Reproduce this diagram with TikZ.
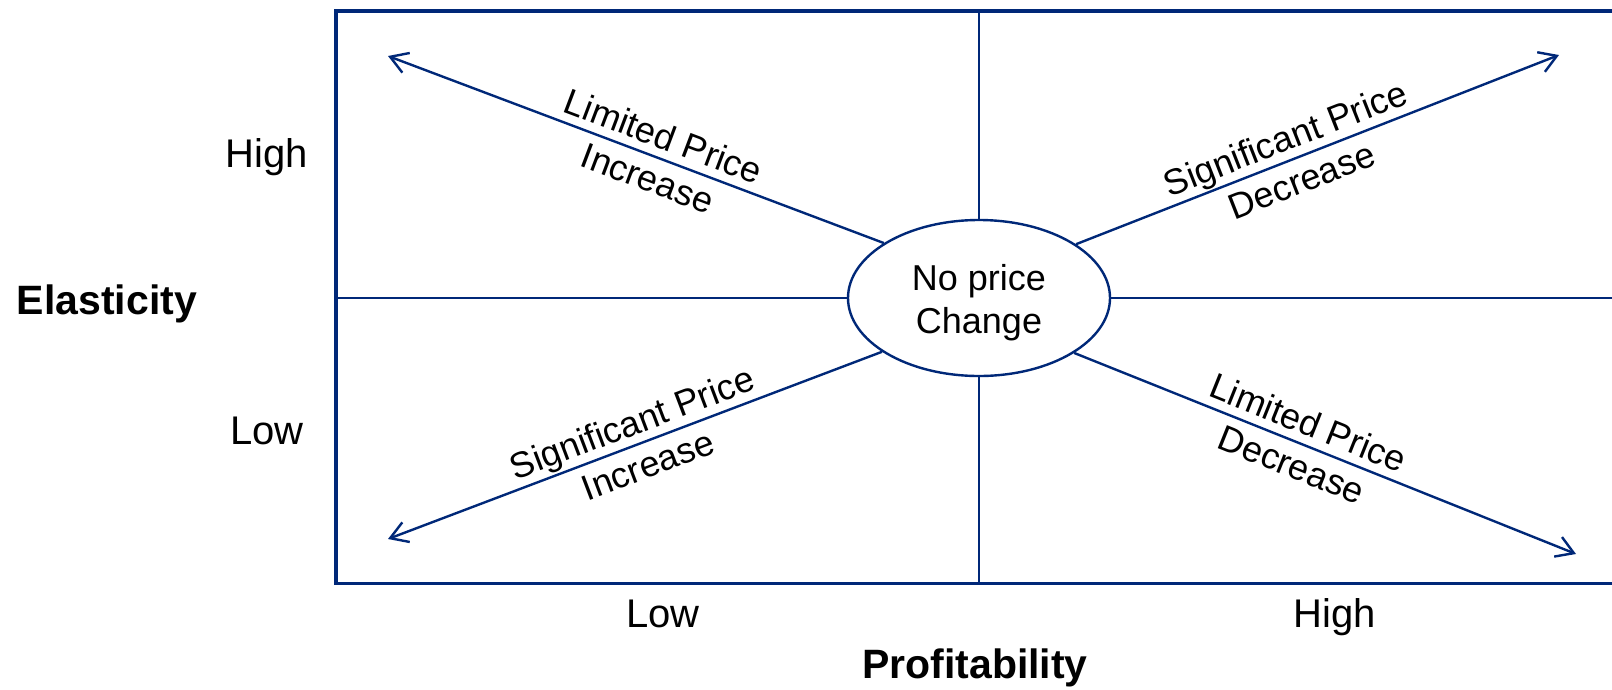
\documentclass[tikz,border=0pt]{standalone}
\usepackage{fontspec}
\setmainfont{Liberation Sans}
\usetikzlibrary{shapes.geometric,arrows.meta}

\definecolor{navy}{RGB}{0,40,120}

\tikzset{
	frame/.style={draw=navy, line width=3.5pt},
	quad/.style={draw=navy, line width=2.5pt},
	move/.style={draw=navy, line width=2.4pt,
		-{Straight Barb[length=17pt,width=21pt,line width=2.4pt]}},
	axis/.style={font=\fontsize{40}{46}\selectfont, anchor=base},
	title/.style={font=\fontsize{41}{47}\selectfont\bfseries, anchor=base},
	hint/.style={font=\fontsize{36}{45}\selectfont, align=center, sloped},
	hub/.style={ellipse, draw=navy, line width=2.4pt, fill=white,
		minimum width=262pt, minimum height=156pt, inner sep=0pt},
	hubtext/.style={font=\fontsize{36}{43}\selectfont, align=center}
}

\begin{document}
\begin{tikzpicture}[x=1pt,y=-1pt]
	\useasboundingbox (0,0) rectangle (1612,689);

	%\draw[help lines,step=100] (0,0) grid (1612,689);

	% the frame, runs off on the right
	\draw[frame] (1612,11) -- (336,11) -- (336,583.5) -- (1612,583.5);

	\node[hub] (np) at (979,298) {};
	\node[hubtext] (np-t) at (979,303) {No price\\Change};

	% cross through the middle
	\coordinate (top) at (979,11);
	\coordinate (bot) at (979,583.5);
	\coordinate (lft) at (336,298);
	\coordinate (rgt) at (1612,298);
	\draw[quad] (top) -- (np.north);
	\draw[quad] (np.south) -- (bot);
	\draw[quad] (lft) -- (np.west);
	\draw[quad] (np.east) -- (rgt);

	% arrow tips
	\coordinate (ul) at (388,56);
	\coordinate (ur) at (1559,55);
	\coordinate (ll) at (388,539);
	\coordinate (lr) at (1576,554);

	\draw[move] (np.150.6) -- (ul) node[hint, pos=0.46] {Limited Price\\Increase};
	\draw[move] (np.29.4) -- (ur) node[hint, pos=0.45] {Significant Price\\Decrease};
	\draw[move] (np.209.4) -- (ll) node[hint, pos=0.49] {Significant Price\\Increase};
	\draw[move] (np.330.6) -- (lr) node[hint, pos=0.45] {Limited Price\\Decrease};

	% axis labels
	\node[axis] (eh) at (267,167) {High};
	\node[axis] (el) at (267,444) {Low};
	\node[title] (el-t) at (107,314) {Elasticity};
	\node[axis] (pl) at (663,627) {Low};
	\node[axis] (ph) at (1335,627) {High};
	\node[title] (pr-t) at (975,678) {Profitability};
\end{tikzpicture}
\end{document}
